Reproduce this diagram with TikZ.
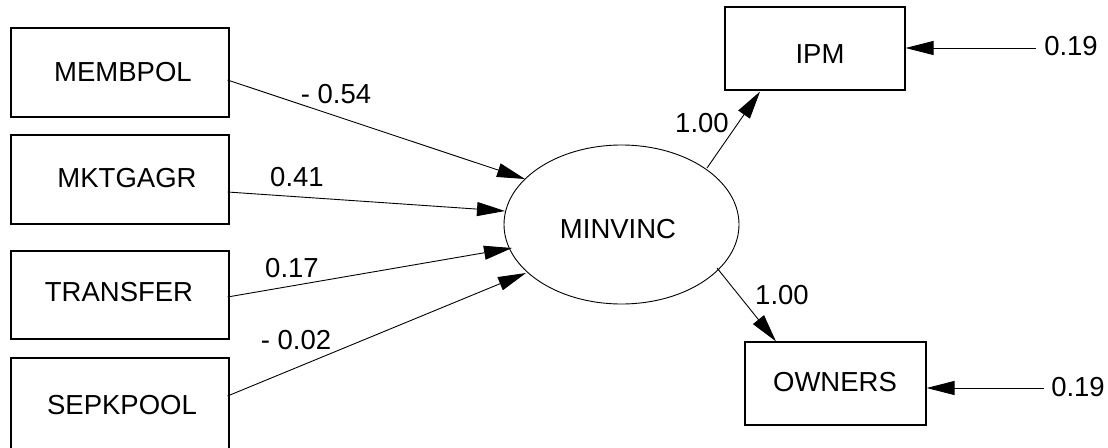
\documentclass[tikz,border=0pt]{standalone}
\usepackage{fontspec}
\setmainfont{Liberation Sans}
\usetikzlibrary{arrows.meta,shapes.geometric,calc}
\begin{document}
\begin{tikzpicture}[x=1pt,y=-1pt,
  box/.style={draw,line width=1.1pt,rectangle,inner sep=0pt},
  lbl/.style={inner sep=0pt,anchor=center,font=\fontsize{27.5}{33}\selectfont},
  arr/.style={line width=0.9pt,-{Triangle[length=28pt,width=14pt]}}]
\useasboundingbox (0,0) rectangle (1108,447);
% left boxes
\node[box,minimum width=218pt,minimum height=89pt] (mem) at (120,72.5) {};
\node[box,minimum width=218pt,minimum height=89pt] (mkt) at (120,179.5) {};
\node[box,minimum width=218pt,minimum height=88pt] (tra) at (120,295) {};
\node[box,minimum width=218pt,minimum height=94pt] (sep) at (120,405) {};
\node[lbl] (memt) at (123,72) {MEMBPOL};
\node[lbl] (mktt) at (127,178) {MKTGAGR};
\node[lbl] (trat) at (119,292) {TRANSFER};
\node[lbl] (sept) at (122,405) {SEPKPOOL};
% latent
\node[draw,ellipse,line width=0.9pt,inner sep=0pt,minimum width=235pt,minimum height=159pt] (ell) at (621.5,224.5) {};
\node[lbl] (ellt) at (618,229) {MINVINC};
% right boxes
\node[box,minimum width=180pt,minimum height=83pt] (ipm) at (815,48.5) {};
\node[lbl] (ipmt) at (820,54) {IPM};
\node[box,minimum width=181pt,minimum height=83pt] (own) at (835.5,383.5) {};
\node[lbl] (ownt) at (835,382) {OWNERS};
% error labels
\node[lbl] (e1) at (1071,46) {0.19};
\node[lbl] (e2) at (1078,387) {0.19};
% path labels
\node[lbl] (l1) at (336,94) {- 0.54};
\node[lbl] (l2) at (297,177) {0.41};
\node[lbl] (l3) at (292,268) {0.17};
\node[lbl] (l4) at (296,340) {- 0.02};
\node[lbl] (l5) at (702,123) {1.00};
\node[lbl] (l6) at (782,295) {1.00};
% arrows
\draw[arr] ($(mem.east)+(-2,7.5)$) -- ($(ell.center)+(-96.5,-45.5)$);
\draw[arr] ($(mkt.east)+(-2,12.5)$) -- ($(ell.center)+(-116.5,-13.5)$);
\draw[arr] ($(tra.east)+(-2,2)$) -- ($(ell.center)+(-109.5,23.5)$);
\draw[arr] ($(sep.east)+(-2,-9)$) -- ($(ell.center)+(-95.5,48.5)$);
\draw[arr] ($(ell.center)+(85.5,-56.5)$) -- ($(ipm.south)+(-55,1)$);
\draw[arr] ($(ell.center)+(95.5,43.5)$) -- ($(own.north)+(-59.5,0)$);
\draw[arr] ($(e1.west)+(-8,2)$) -- ($(ipm.east)+(0,-0.5)$);
\draw[arr] ($(e2.west)+(-7,1)$) -- ($(own.east)+(0,4.5)$);
\end{tikzpicture}
\end{document}
